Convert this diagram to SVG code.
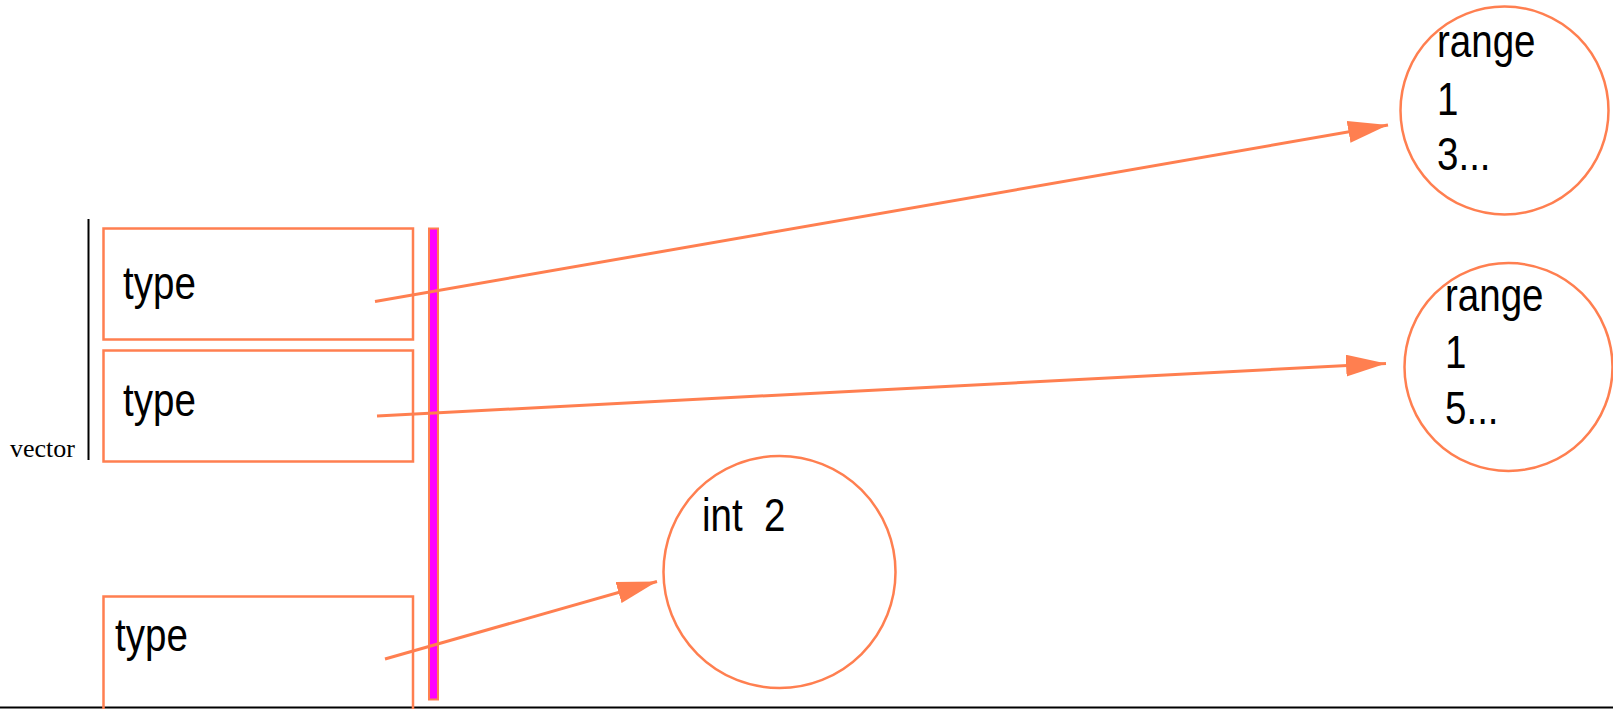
<svg xmlns="http://www.w3.org/2000/svg" width="1613" height="709" viewBox="0 0 1613 709">
<style>
.box{fill:none;stroke:#FF7F50;stroke-width:2.5}
.circ{fill:none;stroke:#FF7F50;stroke-width:2.5}
.lbl{font-family:"Liberation Sans",Arial,sans-serif;font-size:47px;fill:#000}
.edge{stroke:#FF7F50;stroke-width:3;fill:none;marker-end:url(#arr)}
</style>
<defs>
<marker id="arr" markerUnits="userSpaceOnUse" markerWidth="40" markerHeight="22" refX="40" refY="11" orient="auto" viewBox="0 0 40 22">
<path d="M0,0 L40,11 L0,22 z" fill="#FF7F50"/>
</marker>
</defs>
<rect width="1613" height="709" fill="#fff"/>
<line x1="0" y1="707.5" x2="1613" y2="707.5" stroke="#000" stroke-width="2"/>
<g id="vector">
<line x1="88.5" y1="219" x2="88.5" y2="460" stroke="#000" stroke-width="2"/>
<text x="10" y="457" font-family="'Liberation Serif','Times New Roman',serif" font-size="26">vector</text>
</g>
<g id="bar">
<rect x="429" y="228.5" width="9" height="471" fill="#FF00FF" stroke="#FF7F50" stroke-width="2"/>
</g>
<g id="box1">
<rect class="box" x="103.5" y="228.5" width="309.5" height="111"/>
<text class="lbl" transform="translate(123,299) scale(0.82,1)">type</text>
</g>
<g id="box2">
<rect class="box" x="103.5" y="350.5" width="309.5" height="111"/>
<text class="lbl" transform="translate(123,416) scale(0.82,1)">type</text>
</g>
<g id="box3">
<rect class="box" x="103.5" y="596.5" width="309.5" height="120"/>
<text class="lbl" transform="translate(115,651) scale(0.82,1)">type</text>
</g>
<g id="range1">
<circle class="circ" cx="1504.5" cy="110.5" r="104"/>
<text class="lbl" transform="translate(1437,57) scale(0.82,1)">range</text>
<text class="lbl" transform="translate(1437,115) scale(0.82,1)">1</text>
<text class="lbl" transform="translate(1437,170) scale(0.82,1)">3...</text>
</g>
<g id="range2">
<circle class="circ" cx="1508.5" cy="367" r="104"/>
<text class="lbl" transform="translate(1445,311) scale(0.82,1)">range</text>
<text class="lbl" transform="translate(1445,368) scale(0.82,1)">1</text>
<text class="lbl" transform="translate(1445,424) scale(0.82,1)">5...</text>
</g>
<g id="int2">
<circle class="circ" cx="779.5" cy="572" r="116"/>
<text class="lbl" transform="translate(702,531) scale(0.82,1)" xml:space="preserve">int  2</text>
</g>
<g id="connectors">
<line class="edge" x1="375" y1="301.5" x2="1388" y2="125"/>
<line class="edge" x1="377" y1="416" x2="1386" y2="363.5"/>
<line class="edge" x1="385" y1="659" x2="657" y2="581.5"/>
</g>
</svg>
